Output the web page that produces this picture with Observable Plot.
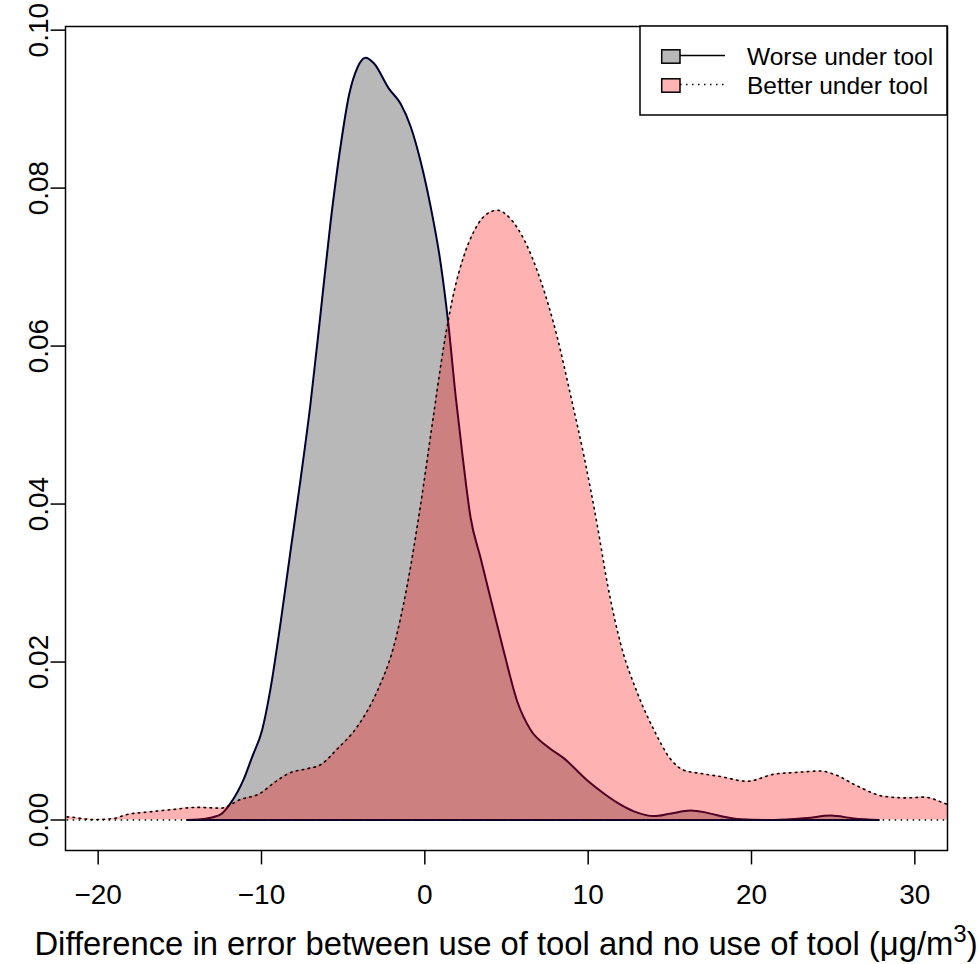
<!DOCTYPE html>
<html>
<head>
<meta charset="utf-8">
<script src="https://cdn.jsdelivr.net/npm/d3@7"></script>
<script src="https://cdn.jsdelivr.net/npm/@observablehq/plot@0.6"></script>
<style>
  body { margin: 0; background: #fff; }
  #chart { width: 979px; height: 964px; }
</style>
</head>
<body>
<div id="chart"></div>
<script>
// "Worse under tool" density (grey)
const worseX = [-14.55, -13.33, -12.5, -11.9, -11.08, -10.57, -9.96, -9.45, -8.83, -8.22, -7.61, -7.0, -6.38, -5.77, -5.16, -4.65, -4.14, -3.63, -3.12, -2.2, -1.49, -0.87, -0.26, 0.35, 0.96, 1.44, 1.88, 2.31, 2.8, 3.41, 4.03, 4.84, 5.66, 6.48, 7.5, 8.52, 9.95, 11.0, 11.78, 12.8, 14.03, 15.0, 16.27, 17.1, 17.9, 19.33, 21.4, 23.4, 24.85, 26.27, 27.8];
const worseY = [0, 0.0002, 0.0007, 0.0021, 0.0052, 0.0080, 0.0114, 0.0166, 0.0250, 0.0341, 0.0431, 0.0527, 0.0642, 0.0757, 0.0853, 0.0917, 0.0952, 0.0965, 0.0958, 0.0926, 0.0907, 0.0878, 0.0834, 0.0777, 0.0706, 0.0628, 0.0538, 0.0461, 0.0383, 0.0332, 0.028, 0.0213, 0.015, 0.0114, 0.0093, 0.0078, 0.005, 0.0033, 0.0022, 0.0011, 0.0005, 0.0008, 0.0012, 0.001, 0.0006, 0.0001, 0, 0.00025, 0.00056, 0.0002, 0];

// "Better under tool" density (pink)
const betterX = [-23, -22, -20.27, -19.04, -18.22, -17.0, -15.57, -13.94, -12.5, -11.28, -10.06, -9.24, -8.22, -7.2, -6.38, -5.36, -4.14, -2.92, -1.9, -1.08, -0.26, 0.55, 1.16, 1.78, 2.39, 3.0, 3.72, 4.43, 5.25, 6.07, 7.09, 8.11, 8.92, 9.74, 10.56, 11.17, 11.99, 13.01, 14.03, 15.05, 15.86, 16.88, 18.1, 19.74, 21.37, 22.6, 24.23, 25.05, 26.48, 28.1, 29.5, 30.56, 32.0, 33];
const betterY = [0.0003, 0.0004, 0.00005, 0.0002, 0.0007, 0.001, 0.0013, 0.0016, 0.0015, 0.0026, 0.0034, 0.0047, 0.006, 0.0065, 0.007, 0.009, 0.0118, 0.0163, 0.022, 0.0297, 0.0399, 0.0515, 0.06, 0.0668, 0.0714, 0.0745, 0.0766, 0.0772, 0.0761, 0.0735, 0.0683, 0.0611, 0.0538, 0.0461, 0.0373, 0.03, 0.0223, 0.0161, 0.0114, 0.0077, 0.0063, 0.0059, 0.0055, 0.0049, 0.0058, 0.006, 0.0062, 0.0058, 0.0043, 0.003, 0.0028, 0.0029, 0.002, 0.0015];

const xTicks = [-20, -10, 0, 10, 20, 30];
const yTicks = [0, 0.02, 0.04, 0.06, 0.08, 0.10];
const seriesNames = ["Worse under tool", "Better under tool"];
const xLabelText = "Difference in error between use of tool and no use of tool (\u03bcg/m";
const xLabelSup = "3";
const xLabelEnd = ")";

const worse = worseX.map((x, i) => ({x, y: worseY[i]}));
const better = betterX.map((x, i) => ({x, y: betterY[i]}));

const FONT = "'Liberation Sans', Arial, Helvetica, sans-serif";
const grey = "#b8b8b8";
const greyLine = "#000033";
const pink = "#ffb3b3";
const dots = "1.5,4.5";

const chart = Plot.plot({
  width: 979,
  height: 964,
  marginLeft: 65,
  marginRight: 32,
  marginTop: 26,
  marginBottom: 114,
  style: {fontFamily: FONT, background: "white", color: "black"},
  x: {domain: [-22, 32]},
  y: {domain: [-0.00386, 0.10046]},
  marks: [
    Plot.areaY(worse, {x: "x", y: "y", fill: grey, curve: "monotone-x", clip: true}),
    Plot.line(worse, {x: "x", y: "y", stroke: greyLine, strokeWidth: 2, curve: "monotone-x", clip: true}),
    Plot.ruleY([0], {x1: d3.min(worseX), x2: d3.max(worseX), stroke: greyLine, strokeWidth: 2, clip: true}),
    Plot.areaY(better, {x: "x", y: "y", fill: "red", fillOpacity: 0.3, curve: "monotone-x", clip: true}),
    Plot.line(better, {x: "x", y: "y", stroke: "black", strokeWidth: 1.6, strokeDasharray: dots, curve: "monotone-x", clip: true}),
    Plot.ruleY([0], {x1: d3.min(betterX), x2: d3.max(betterX), stroke: "black", strokeWidth: 1.6, strokeDasharray: dots, clip: true}),
    Plot.frame({stroke: "black", strokeWidth: 1.5}),
    Plot.axisX({ticks: xTicks, tickSize: 14.4, tickPadding: 19, fontSize: 28, label: null, strokeWidth: 1.5, tickFormat: d3.format("d")}),
    Plot.axisY({ticks: yTicks, tickSize: 14.4, tickPadding: 3, tickRotate: -90, fontSize: 28, label: null, strokeWidth: 1.5, tickFormat: d3.format(".2f")})
  ]
});

document.getElementById("chart").appendChild(chart);

const svg = d3.select(chart);
const xr = chart.scale("x").range;
const yr = chart.scale("y").range;
const frameLeft = Math.min(...xr), frameRight = Math.max(...xr);
const frameTop = Math.min(...yr), frameBottom = Math.max(...yr);

// x-axis title with superscript
const title = svg.append("text")
  .attr("x", (frameLeft + frameRight) / 2)
  .attr("y", frameBottom + 105)
  .attr("text-anchor", "middle")
  .attr("font-family", FONT)
  .attr("font-size", 32.8)
  .attr("fill", "black");
title.append("tspan").text(xLabelText);
title.append("tspan").attr("font-size", 24).attr("dy", -13).text(xLabelSup);
title.append("tspan").attr("font-size", 32.8).attr("dy", 13).text(xLabelEnd);

// legend (top-right, inside plot)
const lgW = 307, lgH = 89;
const lg = svg.append("g").attr("transform", `translate(${frameRight - lgW},${frameTop})`);
lg.append("rect").attr("x", 0).attr("y", 0).attr("width", lgW).attr("height", lgH)
  .attr("fill", "white").attr("stroke", "black").attr("stroke-width", 1.5);
const fills = [grey, pink];
const dashes = [null, dots];
seriesNames.forEach((name, i) => {
  const cy = 30.5 + i * 29;
  lg.append("rect").attr("x", 21.7).attr("y", cy - 6.7).attr("width", 18.3).attr("height", 13.4)
    .attr("fill", fills[i]).attr("stroke", "black").attr("stroke-width", 1.5);
  const ln = lg.append("line").attr("x1", 40).attr("x2", 85).attr("y1", cy - 1).attr("y2", cy - 1)
    .attr("stroke", "black").attr("stroke-width", 1.5);
  if (dashes[i]) ln.attr("stroke-dasharray", dashes[i]);
  lg.append("text").attr("x", 107).attr("y", cy).attr("dy", "0.35em")
    .attr("text-anchor", "start")
    .attr("font-family", FONT).attr("font-size", 24.5).attr("fill", "black").text(name);
});
</script>
</body>
</html>
